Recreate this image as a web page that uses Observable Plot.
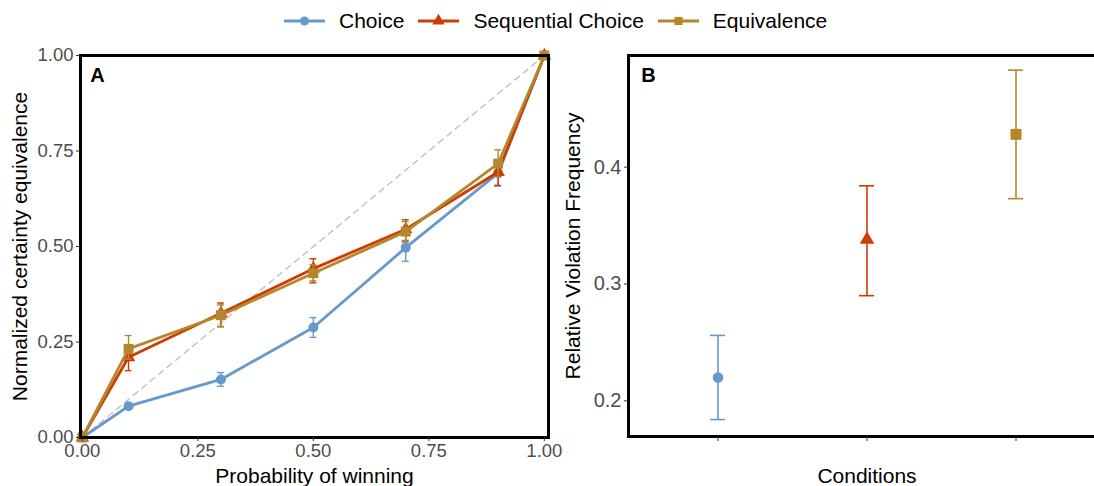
<!DOCTYPE html>
<html>
<head>
<meta charset="utf-8">
<script src="https://cdn.jsdelivr.net/npm/d3@7"></script>
<script src="https://cdn.jsdelivr.net/npm/@observablehq/plot@0.6"></script>
<style>
  html, body { margin: 0; padding: 0; background: #fff; }
  body { width: 1094px; height: 486px; overflow: hidden; position: relative; font-family: "Liberation Sans", Arial, sans-serif; }
  #legend { position: absolute; left: 284px; top: 3px; height: 36px; display: flex; align-items: center; font-size: 21px; color: #000; white-space: nowrap; }
  #legend .item { display: flex; align-items: center; margin-right: 14px; }
  #legend svg { margin-right: 14px; }
  #panelA { position: absolute; left: 0; top: 40px; width: 560px; height: 446px; }
  #panelB { position: absolute; left: 560px; top: 40px; width: 560px; height: 446px; }
  #panelA svg, #panelB svg { max-width: none !important; overflow: visible; }
</style>
</head>
<body>
<div id="legend"></div>
<div id="panelA"></div>
<div id="panelB"></div>
<script>
// ---------- data ----------
const seriesNames = ["Choice", "Sequential Choice", "Equivalence"];
const seriesColors = ["#6699CC", "#CF3C02", "#B5872D"];
const seriesSymbols = ["circle", "triangle", "square"];

const probs = [0, 0.1, 0.3, 0.5, 0.7, 0.9, 1.0];
const choiceMean = [0, 0.082, 0.152, 0.288, 0.497, 0.692, 1.0];
const choiceLo   = [0, 0.076, 0.134, 0.262, 0.461, 0.658, 1.0];
const choiceHi   = [0, 0.088, 0.170, 0.314, 0.516, 0.716, 1.0];
const seqMean    = [0, 0.210, 0.325, 0.442, 0.545, 0.695, 1.0];
const seqLo      = [-0.006, 0.175, 0.290, 0.405, 0.513, 0.660, 1.0];
const seqHi      = [0.008, 0.240, 0.352, 0.468, 0.570, 0.722, 1.0];
const equivMean  = [0, 0.232, 0.320, 0.430, 0.539, 0.717, 1.0];
const equivLo    = [0, 0.205, 0.290, 0.410, 0.512, 0.683, 1.0];
const equivHi    = [0, 0.267, 0.347, 0.452, 0.565, 0.753, 1.0];

const xTicksA = [0, 0.25, 0.5, 0.75, 1];
const yTicksA = [0, 0.25, 0.5, 0.75, 1];
const diagonal = [0, 1];

const conditions = ["Choice", "Sequential Choice", "Equivalence"];
const violationMean = [0.220, 0.338, 0.428];
const violationLo   = [0.184, 0.290, 0.373];
const violationHi   = [0.256, 0.384, 0.483];
const yTicksB = [0.2, 0.3, 0.4];

// ---------- tables ----------
const meansList = [choiceMean, seqMean, equivMean];
const losList = [choiceLo, seqLo, equivLo];
const hisList = [choiceHi, seqHi, equivHi];
const tableA = seriesNames.map((s, i) => probs.map((p, j) => ({series: s, p, m: meansList[i][j], lo: losList[i][j], hi: hisList[i][j]})));
const tableB = conditions.map((c, i) => ({cond: c, m: violationMean[i], lo: violationLo[i], hi: violationHi[i]}));

const FONT = "Liberation Sans, Arial, sans-serif";
const rA = [5, 5.0, 5.6];
const rB = [5.3, 5.4, 6.2];

// ---------- legend ----------
const legend = document.getElementById("legend");
seriesNames.forEach((s, i) => {
  const item = document.createElement("div");
  item.className = "item";
  const ns = "http://www.w3.org/2000/svg";
  const svg = document.createElementNS(ns, "svg");
  svg.setAttribute("width", 41); svg.setAttribute("height", 20);
  const ln = document.createElementNS(ns, "line");
  ln.setAttribute("x1", 0); ln.setAttribute("x2", 41); ln.setAttribute("y1", 10); ln.setAttribute("y2", 10);
  ln.setAttribute("stroke", seriesColors[i]); ln.setAttribute("stroke-width", 2.8);
  svg.appendChild(ln);
  const sym = document.createElementNS(ns, "path");
  const symType = {circle: d3.symbolCircle, triangle: d3.symbolTriangle, square: d3.symbolSquare}[seriesSymbols[i]];
  sym.setAttribute("d", d3.symbol(symType, Math.PI * 4.6 * 4.6)());
  sym.setAttribute("transform", "translate(20.5,10)");
  sym.setAttribute("fill", seriesColors[i]);
  svg.appendChild(sym);
  item.appendChild(svg);
  const t = document.createElement("span");
  t.textContent = s;
  item.appendChild(t);
  legend.appendChild(item);
});

// ---------- panel A ----------
const marksA = [
  Plot.line(diagonal, {x: d => d, y: d => d, stroke: "#BDBDBD", strokeWidth: 1.3, strokeDasharray: "6,5"})
];
tableA.forEach((rows, i) => {
  const c = seriesColors[i];
  marksA.push(
    Plot.ruleX(rows, {x: "p", y1: "lo", y2: "hi", stroke: c, strokeWidth: 1.4}),
    Plot.ruleY(rows, {y: "lo", x1: d => d.p - 0.0075, x2: d => d.p + 0.0075, stroke: c, strokeWidth: 1.4}),
    Plot.ruleY(rows, {y: "hi", x1: d => d.p - 0.0075, x2: d => d.p + 0.0075, stroke: c, strokeWidth: 1.4}),
    Plot.line(rows, {x: "p", y: "m", stroke: c, strokeWidth: 2.8}),
    Plot.dot(rows, {x: "p", y: "m", symbol: seriesSymbols[i], fill: c, r: rA[i], stroke: "none"})
  );
});
marksA.push(
  Plot.frame({stroke: "#000", strokeWidth: 3}),
  Plot.axisX({ticks: xTicksA, tickFormat: d3.format(".2f"), tickSize: 4, tickPadding: 2, fontSize: 18.5, color: "#4D4D4D", stroke: "#333", label: null}),
  Plot.axisY({ticks: yTicksA, tickFormat: d3.format(".2f"), tickSize: 4, tickPadding: 3, fontSize: 18.5, color: "#4D4D4D", stroke: "#333", label: null}),
  Plot.text(["Probability of winning"], {frameAnchor: "bottom", dy: 39, text: d => d, fontSize: 21, fill: "#000", textAnchor: "middle", lineAnchor: "middle"}),
  Plot.text(["Normalized certainty equivalence"], {frameAnchor: "left", dx: -60, rotate: -90, text: d => d, fontSize: 21, fill: "#000", textAnchor: "middle", lineAnchor: "middle"}),
  Plot.text(["A"], {frameAnchor: "top-left", dx: 17, dy: 20, text: d => d, fontSize: 20, fontWeight: "bold", fill: "#000", textAnchor: "middle", lineAnchor: "middle"})
);

const plotA = Plot.plot({
  width: 560, height: 446,
  marginLeft: 80, marginRight: 12, marginTop: 15, marginBottom: 49,
  style: {fontFamily: FONT, background: "transparent", overflow: "visible"},
  x: {domain: [-0.004, 1.009]},
  y: {domain: [0, 1]},
  marks: marksA
});
document.getElementById("panelA").appendChild(plotA);

// ---------- panel B ----------
const marksB = [];
tableB.forEach((row, i) => {
  const c = seriesColors[i];
  const rows = [row];
  marksB.push(
    Plot.ruleX(rows, {x: "cond", y1: "lo", y2: "hi", stroke: c, strokeWidth: 1.6}),
    Plot.tickY(rows, {x: "cond", y: "lo", stroke: c, strokeWidth: 1.6, inset: 0}),
    Plot.tickY(rows, {x: "cond", y: "hi", stroke: c, strokeWidth: 1.6, inset: 0}),
    Plot.dot(rows, {x: "cond", y: "m", symbol: seriesSymbols[i], fill: c, r: rB[i], stroke: "none"})
  );
});
marksB.push(
  Plot.frame({stroke: "#000", strokeWidth: 3}),
  Plot.axisX({tickSize: 5, tickFormat: () => "", stroke: "#333", label: null}),
  Plot.axisY({ticks: yTicksB, tickFormat: d3.format(".1f"), tickSize: 4, tickPadding: 3, fontSize: 20, color: "#4D4D4D", stroke: "#333", label: null}),
  Plot.text(["Conditions"], {frameAnchor: "bottom", dy: 40, text: d => d, fontSize: 21, fill: "#000", textAnchor: "middle", lineAnchor: "middle"}),
  Plot.text(["Relative Violation Frequency"], {frameAnchor: "left", dx: -55, rotate: -90, text: d => d, fontSize: 21, fill: "#000", textAnchor: "middle", lineAnchor: "middle"}),
  Plot.text(["B"], {frameAnchor: "top-left", dx: 20, dy: 20, text: d => d, fontSize: 20, fontWeight: "bold", fill: "#000", textAnchor: "middle", lineAnchor: "middle"})
);

const plotB = Plot.plot({
  width: 560, height: 446,
  marginLeft: 68, marginRight: 15, marginTop: 15, marginBottom: 50,
  style: {fontFamily: FONT, background: "transparent", overflow: "visible"},
  x: {type: "band", domain: conditions, paddingInner: 0.9, paddingOuter: 0.55, align: 0.5},
  y: {domain: [0.1695, 0.4955]},
  marks: marksB
});
document.getElementById("panelB").appendChild(plotB);
</script>
</body>
</html>
